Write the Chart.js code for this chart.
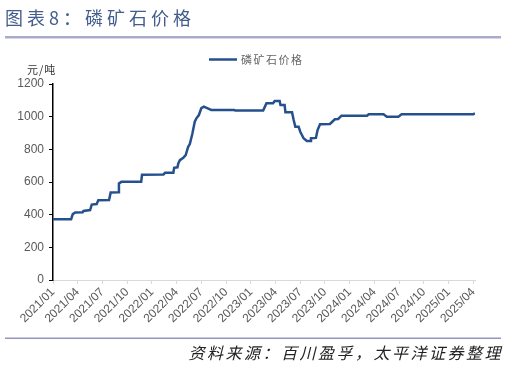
<!DOCTYPE html>
<html>
<head>
<meta charset="utf-8">
<script src="https://cdn.jsdelivr.net/npm/chart.js@4/dist/chart.umd.min.js"></script>
<style>
  html, body { margin: 0; padding: 0; background: #fff; }
  #wrap { width: 507px; height: 365px; position: relative; }
</style>
</head>
<body>
<div id="wrap"><canvas id="chart"></canvas></div>
<script>
/*- DATA
-----------------------------------------------------------------------*/
// dates where the price changes (weekly series)
const dates = [
  '2021-01-01', '2021-03-07', '2021-03-13', '2021-03-22', '2021-04-19', '2021-04-22',
  '2021-05-16', '2021-05-22', '2021-06-10', '2021-06-16', '2021-07-25', '2021-08-01',
  '2021-08-28', '2021-09-01', '2021-09-10', '2021-11-22', '2021-11-25', '2022-02-13',
  '2022-02-19', '2022-03-19', '2022-03-22', '2022-04-04', '2022-04-07', '2022-04-13',
  '2022-04-25', '2022-05-04', '2022-05-13', '2022-05-19', '2022-05-28', '2022-06-07',
  '2022-06-13', '2022-06-22', '2022-07-01', '2022-07-10', '2022-07-22', '2022-08-07',
  '2022-11-01', '2022-11-04', '2023-02-16', '2023-02-22', '2023-02-28', '2023-03-22',
  '2023-03-28', '2023-04-16', '2023-04-19', '2023-05-04', '2023-05-07', '2023-06-01',
  '2023-06-07', '2023-06-13', '2023-06-25', '2023-07-01', '2023-07-13', '2023-07-25',
  '2023-08-07', '2023-08-10', '2023-08-28', '2023-09-04', '2023-09-13', '2023-10-19',
  '2023-11-07', '2023-11-19', '2023-12-01', '2024-03-04', '2024-03-10', '2024-05-04',
  '2024-05-16', '2024-06-28', '2024-07-10', '2025-04-01', '2025-04-07'
];
const prices = [
  372, 372, 403, 413, 415, 423,
  428, 462, 465, 489, 490, 536,
  538, 591, 601, 601, 644, 646,
  656, 657, 687, 690, 714, 734,
  748, 765, 816, 832, 894, 969,
  990, 1010, 1052, 1061, 1052, 1041,
  1041, 1038, 1038, 1060, 1082, 1082,
  1096, 1096, 1072, 1072, 1027, 1027,
  980, 939, 939, 908, 868, 851,
  851, 868, 870, 918, 953, 955,
  984, 986, 1006, 1006, 1015, 1015,
  1000, 1000, 1015, 1015, 1020
];
const tickLabels = [
  '2021/01', '2021/04', '2021/07', '2021/10', '2022/01', '2022/04',
  '2022/07', '2022/10', '2023/01', '2023/04', '2023/07', '2023/10',
  '2024/01', '2024/04', '2024/07', '2024/10', '2025/01', '2025/04'
];
const seriesName = '磷矿石价格';
const yTicks = [0, 200, 400, 600, 800, 1000, 1200];

// months since 2021/01 as a number for the linear axis
function monthIndex(s) {
  const [y, m, d] = s.split('-').map(Number);
  return (y - 2021) * 12 + (m - 1) + (d - 1) / 30;
}
const tickMonths = tickLabels.map(t => monthIndex(t.replace('/', '-') + '-01'));
const points = dates.map((d, i) => ({ x: monthIndex(d), y: prices[i] }));

/*- DECORATION (title, legend, unit, source)
-----------------------------------------------------------------------*/
const LINE_COLOR = '#25508d';
const decor = {
  id: 'decor',
  afterDraw(chart) {
    const ctx = chart.ctx;
    ctx.save();
    // title
    ctx.fillStyle = '#425c8c';
    ctx.font = '18px "Noto Sans CJK SC"';
    ctx.letterSpacing = '4px';
    ctx.textBaseline = 'middle';
    ctx.textAlign = 'left';
    ctx.fillText('图表8：磷矿石价格', 5, 18);
    ctx.letterSpacing = '0px';
    // rules
    ctx.fillStyle = '#a9abcb';
    ctx.fillRect(5, 36, 496, 2.5);
    ctx.fillStyle = '#9496c0';
    ctx.fillRect(5, 337.5, 496, 1.5);
    // legend
    ctx.strokeStyle = LINE_COLOR;
    ctx.lineWidth = 2.5;
    ctx.beginPath();
    ctx.moveTo(209, 59.5);
    ctx.lineTo(237, 59.5);
    ctx.stroke();
    ctx.fillStyle = '#666';
    ctx.font = '11px "Noto Sans CJK SC"';
    ctx.letterSpacing = '1.5px';
    ctx.fillText(seriesName, 241, 59.5);
    // unit
    ctx.fillStyle = '#333';
    ctx.letterSpacing = '1px';
    ctx.fillText('元/吨', 27, 70);
    // source
    ctx.fillStyle = '#222';
    ctx.font = 'italic 16px "Noto Sans CJK SC"';
    ctx.letterSpacing = '2.5px';
    ctx.textAlign = 'right';
    ctx.fillText('资料来源：百川盈孚，太平洋证券整理', 503, 353);
    ctx.restore();
  }
};

/*- CHART
-----------------------------------------------------------------------*/
new Chart(document.getElementById('chart'), {
  type: 'line',
  data: {
    datasets: [{
      label: seriesName,
      data: points,
      borderColor: LINE_COLOR,
      borderWidth: 2.5,
      pointRadius: 0,
      tension: 0,
      fill: false
    }]
  },
  options: {
    responsive: true,
    maintainAspectRatio: false,
    animation: false,
    layout: { padding: { left: 0, right: 32, top: 84, bottom: 0 } },
    plugins: { legend: { display: false }, tooltip: { enabled: false } },
    scales: {
      x: {
        type: 'linear',
        min: 0,
        max: monthIndex('2025-04-07'),
        afterBuildTicks: s => { s.ticks = tickMonths.map(v => ({ value: v })); },
        afterFit: s => { s.height = 85; },
        grid: { drawOnChartArea: false, color: '#d9d9d9', tickLength: 4 },
        border: { color: '#d9d9d9' },
        ticks: {
          autoSkip: false,
          minRotation: 45,
          maxRotation: 45,
          color: '#595959',
          padding: 1,
          font: { family: 'Liberation Sans', size: 12 },
          callback: (v, i) => tickLabels[i]
        }
      },
      y: {
        min: 0,
        max: 1200,
        afterBuildTicks: s => { s.ticks = yTicks.map(v => ({ value: v })); },
        afterFit: s => { s.width = 53; },
        grid: { drawOnChartArea: false, color: '#000', tickLength: 4 },
        border: { color: '#000', width: 1.5 },
        ticks: {
          color: '#595959',
          padding: 5,
          font: { family: 'Liberation Sans', size: 12 },
          callback: v => String(v)
        }
      }
    }
  },
  plugins: [decor]
});
</script>
</body>
</html>
